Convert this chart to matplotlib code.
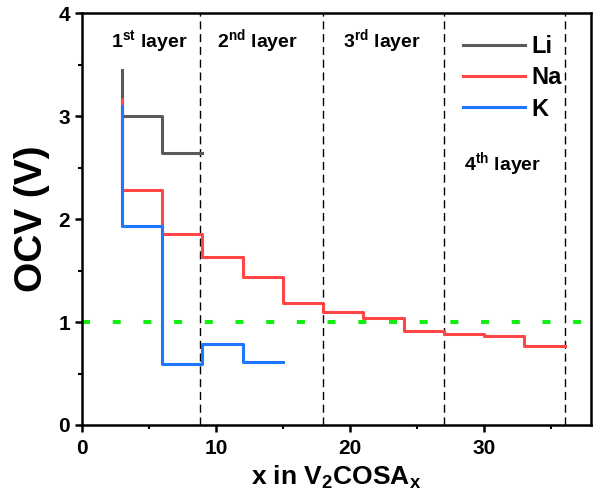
import matplotlib
matplotlib.use("Agg")
import matplotlib.pyplot as plt

plt.rcParams['font.family'] = ['Liberation Sans', 'DejaVu Sans']
plt.rcParams['font.weight'] = 'bold'
plt.rcParams['mathtext.fontset'] = 'custom'
plt.rcParams['mathtext.rm'] = 'Liberation Sans:bold'
plt.rcParams['mathtext.bf'] = 'Liberation Sans:bold'
plt.rcParams['mathtext.it'] = 'Liberation Sans:bold'
plt.rcParams['mathtext.default'] = 'bf'
plt.rcParams['lines.scale_dashes'] = False

# Open-circuit voltage steps (x = number of adsorbed atoms)
li_x = [3, 3, 6, 9]
li_v = [3.45, 3.00, 2.64, 2.64]

na_x = [3, 3, 6, 9, 12, 15, 18, 21, 24, 27, 30, 33, 36]
na_v = [3.17, 2.28, 1.86, 1.63, 1.44, 1.19, 1.10, 1.04, 0.91, 0.88, 0.86, 0.77, 0.77]

k_x = [3, 3, 6, 9, 12, 15]
k_v = [3.10, 1.93, 0.59, 0.79, 0.61, 0.61]

layer_bounds = [8.8, 18, 27, 36]
layer_labels = [r'1$^{st}$ layer', r'2$^{nd}$ layer', r'3$^{rd}$ layer', r'4$^{th}$ layer']
layer_label_x = [5.0, 13.1, 22.4, 31.4]
layer_label_y = [3.73, 3.73, 3.73, 2.54]

reference_v = 1.0

fig = plt.figure(figsize=(6.02, 5.0), dpi=100)
ax = fig.add_axes([0.1357, 0.15, 0.9824 - 0.1357, 0.9734 - 0.15])

ax.plot(li_x, li_v, drawstyle='steps-post', color='#5a5a5a', lw=2.2, label='Li')
ax.plot(na_x, na_v, drawstyle='steps-post', color='#ff4545', lw=2.2, label='Na')
ax.plot(k_x, k_v, drawstyle='steps-post', color='#1e78ff', lw=2.2, label='K')

for xb in layer_bounds:
    ax.axvline(xb, color='black', lw=1.0, dashes=(5.8, 3.4), zorder=1)

ax.axhline(reference_v, color='#11ee11', lw=2.9, dashes=(5.8, 16.3), dash_capstyle='butt', zorder=1)

for txt, tx, ty in zip(layer_labels, layer_label_x, layer_label_y):
    ax.text(tx, ty, txt, ha='center', va='center', fontsize=14, fontweight='bold')

ax.set_xlim(0, 38)
ax.set_ylim(0, 4)
ax.set_xticks([0, 10, 20, 30])
ax.set_xticks([5, 15, 25, 35], minor=True)
ax.set_yticks([0, 1, 2, 3, 4])
ax.set_yticks([0.5, 1.5, 2.5, 3.5], minor=True)

for s in ax.spines.values():
    s.set_linewidth(1.8)
ax.tick_params(which='major', direction='out', length=5, width=1.8, labelsize=15)
ax.tick_params(axis='x', which='major', pad=5)
ax.tick_params(which='minor', direction='out', length=3, width=1.5)
for lab in ax.get_xticklabels() + ax.get_yticklabels():
    lab.set_fontweight('bold')

ax.set_xlabel(r'x in V$_2$COSA$_x$', fontsize=19, fontweight='bold', labelpad=4)
ax.set_ylabel('OCV (V)', fontsize=28, fontweight='bold', labelpad=6)

ax.legend(loc='upper left', bbox_to_anchor=(0.73, 0.97), frameon=False, fontsize=17,
          handlelength=2.6, handletextpad=0.3, labelspacing=0.35, borderaxespad=0)

fig.savefig('out.png', dpi=100)
